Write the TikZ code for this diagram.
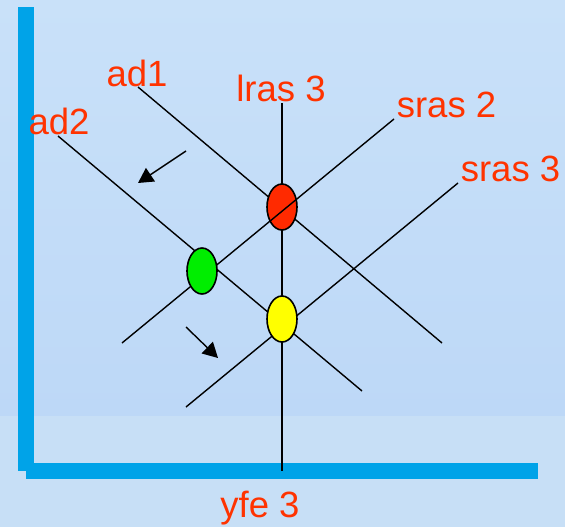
\documentclass[tikz,border=0pt]{standalone}
\usepackage{fontspec}
\setmainfont{Liberation Sans}
\usepackage{xcolor}
\usetikzlibrary{arrows.meta, shapes.geometric, positioning}
\definecolor{C_AXIS}{HTML}{00A3E8}
\definecolor{C_TXT} {HTML}{FF3300}
\definecolor{C_RED} {HTML}{FF2A00}
\definecolor{C_GRN} {HTML}{00EE00}
\definecolor{C_YEL} {HTML}{FFFF00}
\definecolor{BG_TOP}{HTML}{C9E1F9}
\definecolor{BG_MID}{HTML}{BDD8F7}
\definecolor{BG_LOW}{HTML}{C7DFF6}
\tikzset{
  %% -- axis bars --
  AD/axis/.style={fill=C_AXIS, draw=none},
  %% -- demand / supply curves --
  AD/curve/.style={draw=black, line width=1.4pt},
  %% -- curve labels --
  AD/lbl/.style={text=C_TXT, font=\fontsize{36.5}{40}\selectfont,
    inner sep=0pt, anchor=base},
  %% -- equilibrium points --
  AD/eq/.style={ellipse, draw=black, line width=1.6pt,
    minimum width=30pt, minimum height=46pt, inner sep=0pt},
  %% -- shift arrows --
  AD/shift/.style={-{Triangle[length=15pt,width=16pt]}, line width=1.4pt},
}
\begin{document}
\begin{tikzpicture}[x=1pt, y=-1pt]
%% ── Background ───────────────────────────────────────────────
\shade[top color=BG_TOP, bottom color=BG_MID] (0,0) rectangle (565,416);
\fill[BG_LOW] (0,416) rectangle (565,527);
\useasboundingbox (0,0) rectangle (565,527);

%% ── Axes ─────────────────────────────────────────────────────
\fill[AD/axis] (18,7) rectangle (34,471);
\fill[AD/axis] (26,463) rectangle (538,479);

%% ── Curve end points ─────────────────────────────────────────
\coordinate (ad1s) at (138,87);   \coordinate (ad1e) at (442,343);
\coordinate (ad2s) at (58,136);   \coordinate (ad2e) at (362,391);
\coordinate (lrass) at (282,103); \coordinate (lrase) at (282,471);
\coordinate (sras2s) at (394,119); \coordinate (sras2e) at (122,343);
\coordinate (sras3s) at (458,183); \coordinate (sras3e) at (186,407);

%% ── Curves ───────────────────────────────────────────────────
\draw[AD/curve] (ad1s) -- (ad1e);
\draw[AD/curve] (ad2s) -- (ad2e);
\draw[AD/curve] (lrass) -- (lrase);
\draw[AD/curve] (sras3s) -- (sras3e);

%% ── Equilibrium points ───────────────────────────────────────
\node[AD/eq, fill=C_RED] (eqA) at (282,207) {};
\draw[AD/curve] (sras2s) -- (sras2e);
\node[AD/eq, fill=C_GRN] (eqB) at (202,271) {};
\node[AD/eq, fill=C_YEL] (eqC) at (282,319) {};

%% ── Shift arrows ─────────────────────────────────────────────
\coordinate (sh1s) at (186,151); \coordinate (sh1e) at (138,183);
\coordinate (sh2s) at (186,327); \coordinate (sh2e) at (218,358);
\draw[AD/shift] (sh1s) -- (sh1e);
\draw[AD/shift] (sh2s) -- (sh2e);

%% ── Labels ───────────────────────────────────────────────────
\node[AD/lbl] (Lad1)   at (137,86.5)  {ad1};
\node[AD/lbl] (Lad2)   at (59,134.5)  {ad2};
\node[AD/lbl] (Llras)  at (281,101.5) {lras 3};
\node[AD/lbl] (Lsras2) at (446.5,117.5) {sras 2};
\node[AD/lbl] (Lsras3) at (510.5,181.5) {sras 3};
\node[AD/lbl] (Lyfe)   at (260,517.5) {yfe 3};

\end{tikzpicture}
\end{document}
